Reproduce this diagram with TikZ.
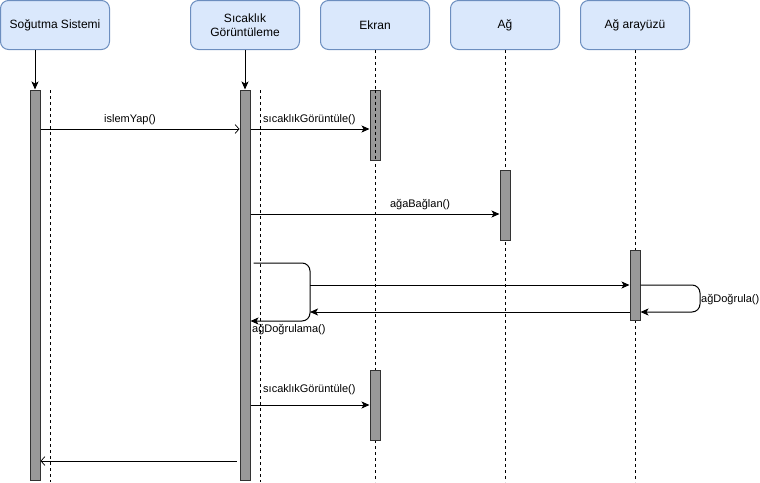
\documentclass[tikz,border=0pt]{standalone}
\usepackage{fontspec}
\setmainfont{Liberation Sans}
\usetikzlibrary{arrows.meta}
\definecolor{boxfill}{HTML}{DAE8FC}
\definecolor{boxdraw}{HTML}{6C8EBF}
\definecolor{barfill}{HTML}{999999}
\definecolor{bardraw}{HTML}{333333}
\begin{document}
\begin{tikzpicture}[x=1pt,y=-1pt,
 actor/.style={draw=boxdraw, fill=boxfill, rounded corners=8pt, minimum width=109pt, minimum height=49pt, inner sep=0pt, align=center, font=\fontsize{12}{14}\selectfont, line width=1pt},
 bar/.style={draw=bardraw, fill=barfill, minimum width=10pt, inner sep=0pt, line width=1pt},
 life/.style={dash pattern=on 3pt off 3pt, line width=1pt},
 msg/.style={line width=1pt, -{Stealth[length=8pt,width=7pt,inset=2pt]}},
 openmsg/.style={line width=1pt, -{Straight Barb[length=4pt,width=9pt,line width=0.7pt]}},
 lbl/.style={font=\fontsize{11}{13}\selectfont, inner sep=0pt}
]
\useasboundingbox (0,0) rectangle (760,482);
% actors
\node[actor] (ss) at (55,25) {Soğutma Sistemi};
\node[actor] (sg) at (245,25) {Sıcaklık\\Görüntüleme};
\node[actor] (ek) at (375,25) {Ekran};
\node[actor] (ag) at (505,25) {Ağ};
\node[actor] (aa) at (635,25) {Ağ arayüzü};
% lifeline ends
\coordinate (ssTop) at (50,90);
\coordinate (ssEnd) at (50,482);
\coordinate (sgTop) at (260,90);
\coordinate (sgEnd) at (260,482);
\coordinate (ekEnd) at (375,482);
\coordinate (agEnd) at (505,482);
\coordinate (aaEnd) at (635,482);
\draw[life] (ssTop) -- (ssEnd);
\draw[life] (sgTop) -- (sgEnd);
\draw[life] (ek.south) -- (ekEnd);
\draw[life] (ag.south) -- (agEnd);
\draw[life] (aa.south) -- (aaEnd);
% activation bars
\node[bar, minimum height=390pt] (b1) at (35,285) {};
\node[bar, minimum height=390pt] (b2) at (245,285) {};
\node[bar, minimum height=70pt] (e1) at (375,125) {};
\node[bar, minimum height=70pt] (e2) at (375,405) {};
\node[bar, minimum height=70pt] (a1) at (505,205) {};
\node[bar, minimum height=70pt] (i1) at (635,285) {};
\draw[life] (e1.north) -- (e1.south);
% creation arrows
\draw[msg] (b1.north |- ss.south) -- (b1.north);
\draw[msg] (b2.north |- sg.south) -- (b2.north);
% y levels
\coordinate (y129) at (0,129);
\coordinate (y214) at (0,214);
\coordinate (y263) at (0,263);
\coordinate (y285) at (0,285);
\coordinate (y312) at (0,312);
\coordinate (y321) at (0,321);
\coordinate (y405) at (0,405);
\coordinate (y461) at (0,461);
\coordinate (L1) at (310,263);
\coordinate (R1) at (700,285);
% messages
\draw[openmsg] (b1.east |- y129) -- (b2.west |- y129);
\node[lbl] (t1) at (130,120) {islemYap()};
\draw[msg] (b2.east |- y129) -- (e1.west |- y129);
\node[lbl, anchor=west] (t2) at (263,120) {sıcaklıkGörüntüle()};
\draw[msg] (b2.east |- y214) -- (a1.west |- y214);
\node[lbl] (t3) at (420,205) {ağaBağlan()};
\draw[msg, rounded corners=8pt] ([xshift=3pt]b2.east |- y263) -- (L1) -- (L1 |- y321) -- (b2.east |- y321);
\draw[msg] (L1 |- y285) -- (i1.west |- y285);
\draw[msg] (i1.west |- y312) -- (L1 |- y312);
\node[lbl, anchor=west] (t4) at (252,330) {ağDoğrulama()};
\draw[msg, rounded corners=8pt] (i1.east |- y285) -- (R1) -- (R1 |- y312) -- (i1.east |- y312);
\node[lbl, anchor=west] (t5) at (701,300) {ağDoğrula()};
\draw[msg] (b2.east |- y405) -- (e2.west |- y405);
\node[lbl, anchor=west] (t6) at (263,390) {sıcaklıkGörüntüle()};
\draw[openmsg] ([xshift=-3pt]b2.west |- y461) -- (b1.east |- y461);
\end{tikzpicture}
\end{document}
